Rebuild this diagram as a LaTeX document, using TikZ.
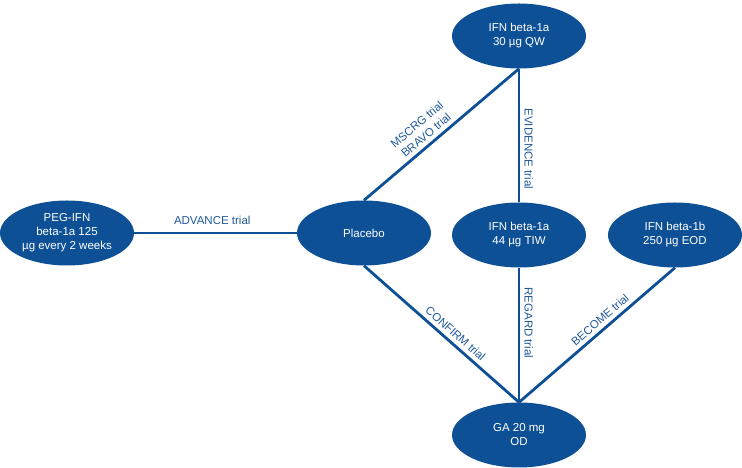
\documentclass[tikz,border=0pt]{standalone}
\usepackage{fontspec}
\setmainfont{Liberation Sans}
\usetikzlibrary{shapes.geometric}
\definecolor{nodeblue}{RGB}{14,80,150}
\definecolor{labelblue}{RGB}{31,89,155}
\tikzset{
  drug/.style={ellipse, fill=nodeblue, text=white, minimum width=134pt, minimum height=65pt, inner sep=0pt, align=center, font=\fontsize{11.5}{14}\selectfont},
  link/.style={draw=nodeblue, line width=2.8pt},
  lab/.style={text=labelblue, font=\fontsize{11.5}{14}\selectfont, align=center, inner sep=2pt},
}
\begin{document}
\begin{tikzpicture}[x=1pt,y=1pt]
\useasboundingbox (0,0) rectangle (742,468);
\node[drug] (top) at (519,432) {IFN beta-1a\\30 µg QW};
\node[drug] (peg) at (67,235) {PEG-IFN\\beta-1a 125\\µg every 2 weeks};
\node[drug] (plac) at (364,235) {Placebo};
\node[drug] (tiw) at (519,233) {IFN beta-1a\\44 µg TIW};
\node[drug] (bb) at (675,233) {IFN beta-1b\\250 µg EOD};
\node[drug] (ga) at (519,33) {GA 20 mg\\OD};
\draw[link] (peg.east) -- node[lab, pos=0.48, above=5pt] {ADVANCE trial} (plac.west);
\draw[link] (plac.north) -- node[lab, pos=0.44, sloped, above=2pt] {MSCRG trial\\BRAVO trial} (top.south);
\draw[link] (top.south) -- node[lab, pos=0.6, rotate=-90, anchor=south, inner sep=4pt] {EVIDENCE trial} (tiw.north);
\draw[link] (tiw.south) -- node[lab, pos=0.41, rotate=-90, anchor=south, inner sep=4pt] {REGARD trial} (ga.north);
\draw[link] (plac.south) -- node[lab, pos=0.55, sloped, above=2pt] {CONFIRM trial} (ga.north);
\draw[link] (ga.north) -- node[lab, pos=0.56, sloped, above=2pt] {BECOME trial} (bb.south);
\end{tikzpicture}
\end{document}
